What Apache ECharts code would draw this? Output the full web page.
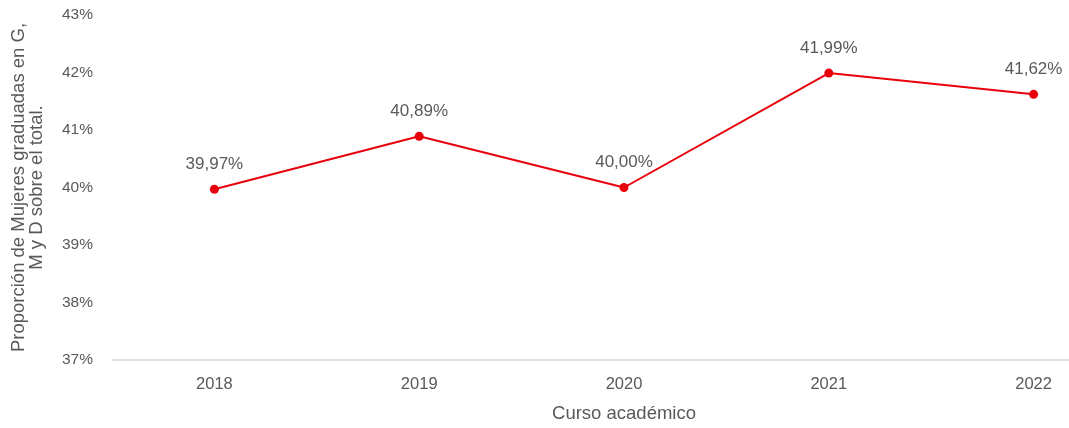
<!DOCTYPE html>
<html lang="es">
<head>
  <meta charset="UTF-8">
  <title>Proporción de mujeres graduadas</title>
  <script src="https://cdn.jsdelivr.net/npm/echarts@6/dist/echarts.min.js"></script>
  <style>
    html, body {
      margin: 0;
      padding: 0;
      background: #fff;
    }

    #main {
      width: 1069px;
      height: 428px;
    }
  </style>
</head>
<body>
  <div id="main"></div>

  <script type="text/javascript">
    // datos del gráfico
    var cursos = ['2018', '2019', '2020', '2021', '2022'];
    var proporcion = [39.97, 40.89, 40.00, 41.99, 41.62];
    var ejeY = { min: 37, max: 43, interval: 1 };

    var gris = '#595959';
    var fuente = 'Liberation Sans';

    var myChart = echarts.init(document.getElementById('main'));

    var option = {
      backgroundColor: '#fff',
      animation: false,
      grid: {
        left: 112,
        top: 15,
        width: 1024,
        height: 345,
        outerBoundsMode: 'none',
        containLabel: false
      },
      xAxis: {
        type: 'category',
        data: cursos,
        boundaryGap: true,
        name: 'Curso académico',
        nameLocation: 'middle',
        nameGap: 44,
        nameTextStyle: { color: gris, fontSize: 18.5, fontFamily: fuente },
        axisLine: { lineStyle: { color: '#d9d9d9', width: 1.5 } },
        axisTick: { show: false },
        axisLabel: { color: gris, fontSize: 16.5, fontFamily: fuente, margin: 16 }
      },
      yAxis: {
        type: 'value',
        min: ejeY.min,
        max: ejeY.max,
        interval: ejeY.interval,
        name: 'Proporción de Mujeres graduadas en G,\nM y D sobre el total.',
        nameLocation: 'middle',
        nameGap: 66,
        nameTextStyle: { color: gris, fontSize: 18.5, fontFamily: fuente, lineHeight: 18 },
        axisLine: { show: false },
        axisTick: { show: false },
        splitLine: { show: false },
        axisLabel: {
          color: gris,
          fontSize: 15.5,
          fontFamily: fuente,
          margin: 19,
          formatter: function (v) { return v + '%'; }
        }
      },
      series: [
        {
          type: 'line',
          data: proporcion,
          symbol: 'circle',
          symbolSize: 9,
          color: '#e8000b',
          lineStyle: { color: '#e8000b', width: 2 },
          itemStyle: { color: '#e8000b' },
          label: {
            show: true,
            position: 'top',
            distance: 12,
            color: gris,
            fontSize: 17,
            fontFamily: fuente,
            formatter: function (p) { return p.value.toFixed(2).replace('.', ',') + '%'; }
          }
        }
      ]
    };

    myChart.setOption(option);
  </script>
</body>
</html>
